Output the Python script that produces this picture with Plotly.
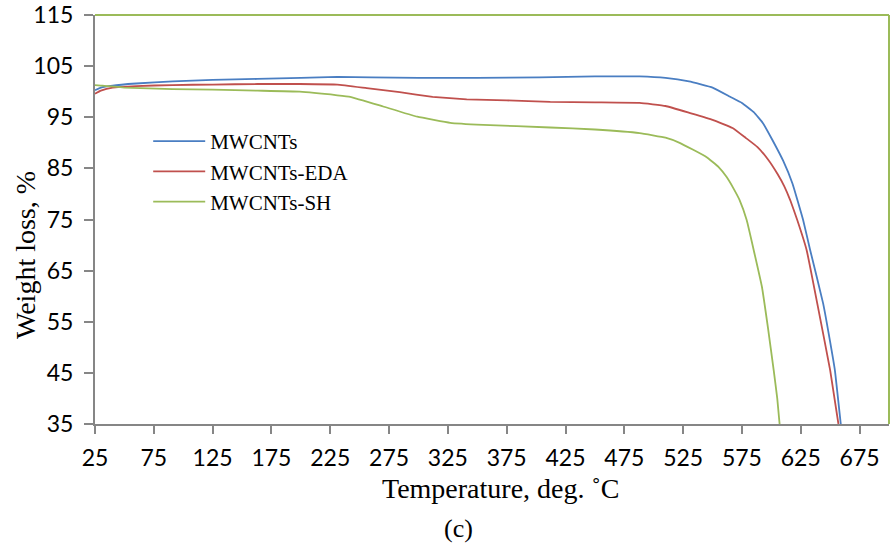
import plotly.graph_objects as go

# Temperature (deg C) and weight (%)
t_mwcnt = [25, 30, 40, 60, 91, 125, 163, 200, 231, 260, 300, 350, 403, 450, 488, 510, 530, 550, 565, 575, 585, 593, 601, 610, 618, 627, 633, 644, 650, 654, 659]
w_mwcnt = [100.3, 100.8, 101.2, 101.6, 102.0, 102.3, 102.5, 102.7, 102.9, 102.8, 102.7, 102.7, 102.8, 103.0, 103.0, 102.7, 102.0, 100.8, 99.0, 97.8, 96.0, 93.8, 90.5, 86.5, 82.0, 74.9, 69.0, 58.6, 51.0, 45.5, 35.0]

t_eda = [25, 30, 40, 60, 91, 125, 163, 199, 231, 256, 284, 312, 341, 375, 412, 450, 488, 510, 531, 550, 567, 578, 588, 597, 605, 611, 616, 622, 630, 639, 650, 657]
w_eda = [99.6, 100.2, 100.8, 101.1, 101.3, 101.4, 101.5, 101.5, 101.4, 100.7, 99.9, 99.0, 98.5, 98.3, 98.0, 97.9, 97.8, 97.2, 95.8, 94.5, 92.9, 91.0, 89.2, 86.8, 84.0, 81.5, 78.8, 74.9, 69.0, 58.6, 45.5, 35.0]

t_sh = [25, 30, 50, 91, 125, 163, 199, 231, 242, 270, 299, 327, 355, 412, 450, 488, 510, 522, 545, 555, 562, 568, 573, 579, 585, 592, 597, 602, 605, 607]
w_sh = [101.3, 101.2, 100.8, 100.5, 100.4, 100.2, 100.0, 99.3, 99.0, 97.1, 95.1, 93.9, 93.5, 93.0, 92.6, 91.9, 91.0, 90.0, 87.2, 85.3, 83.3, 81.0, 78.8, 74.9, 69.0, 61.8, 54.0, 45.5, 40.0, 35.0]

x_ticks = [25, 75, 125, 175, 225, 275, 325, 375, 425, 475, 525, 575, 625, 675]
y_ticks = [35, 45, 55, 65, 75, 85, 95, 105, 115]

series = [
    ("MWCNTs", t_mwcnt, w_mwcnt, "#4A7EC2"),
    ("MWCNTs-EDA", t_eda, w_eda, "#C0504D"),
    ("MWCNTs-SH", t_sh, w_sh, "#9BBB59"),
]

fig = go.Figure()
for i, (name, xs, ys, col) in enumerate(series):
    fig.add_trace(go.Scatter(
        x=xs, y=ys, mode="lines", name=name, legendgroup=f"g{i}",
        line=dict(color=col, width=1.8, shape="spline", smoothing=0.3),
    ))

axis_gray = "#868686"
tick_font = dict(family="Lato", size=23, color="#000000")
serif = "Liberation Serif"

fig.update_layout(
    width=891, height=548,
    margin=dict(l=95, r=2, t=15, b=124, autoexpand=False),
    paper_bgcolor="white", plot_bgcolor="white",
    showlegend=True,
    legend=dict(
        x=0.067, y=0.741, xanchor="left", yanchor="top",
        font=dict(family=serif, size=21, color="#000000"),
        bgcolor="rgba(0,0,0,0)", itemwidth=52, tracegroupgap=0,
    ),
    xaxis=dict(
        range=[25, 700], tickvals=x_ticks, ticktext=[str(v) for v in x_ticks],
        showgrid=False, zeroline=False, showline=True, linecolor=axis_gray, linewidth=2,
        ticks="outside", ticklen=8, tickwidth=2, tickcolor=axis_gray,
        tickfont=tick_font, ticklabelstandoff=4, automargin=False,
    ),
    yaxis=dict(
        range=[35, 115], tickvals=y_ticks, ticktext=[str(v) for v in y_ticks],
        showgrid=False, zeroline=False, showline=True, linecolor=axis_gray, linewidth=2,
        ticks="outside", ticklen=9, tickwidth=2, tickcolor=axis_gray,
        tickfont=tick_font, ticklabelstandoff=6, automargin=False,
    ),
    shapes=[
        dict(type="line", xref="paper", yref="paper", x0=0, x1=1, y0=1, y1=1,
             line=dict(color="#9BBB59", width=2)),
        dict(type="line", xref="paper", yref="paper", x0=1, x1=1, y0=0, y1=1,
             line=dict(color="#9BBB59", width=2)),
    ],
    annotations=[
        dict(text="Temperature, deg. ˚C", xref="paper", yref="paper",
             x=(501 - 95) / 794, y=-(488 - 424) / 409, xanchor="center", yanchor="middle",
             showarrow=False, font=dict(family=serif, size=28, color="#000000")),
        dict(text="Weight loss, %", xref="paper", yref="paper", textangle=-90,
             x=-(95 - 25) / 794, y=(424 - 255) / 409, xanchor="center", yanchor="middle",
             showarrow=False, font=dict(family=serif, size=28, color="#000000")),
        dict(text="(c)", xref="paper", yref="paper",
             x=(458 - 95) / 794, y=-(528 - 424) / 409, xanchor="center", yanchor="middle",
             showarrow=False, font=dict(family=serif, size=26, color="#000000")),
    ],
)

fig.write_html(
    "out.html",
    config={"displayModeBar": False},
    post_script="document.body.style.margin='0';document.body.style.overflow='hidden';",
)
